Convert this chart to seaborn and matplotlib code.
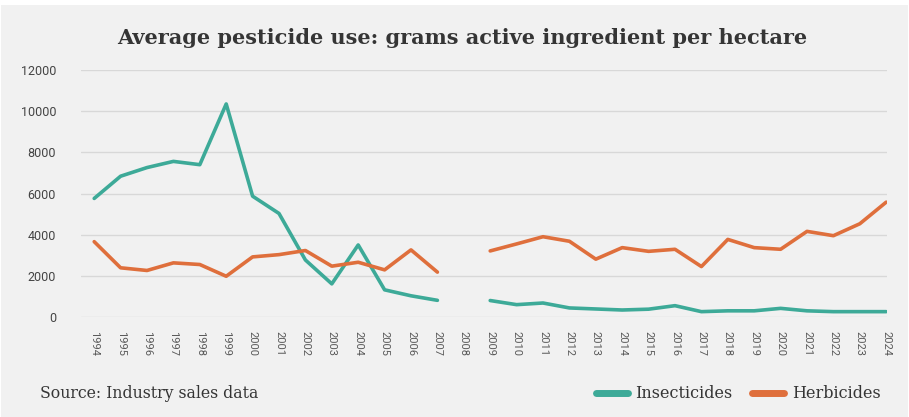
import numpy as np
import pandas as pd
import matplotlib
matplotlib.use("Agg")
import matplotlib.pyplot as plt
import seaborn as sns
from matplotlib.patches import Rectangle
from matplotlib.lines import Line2D

years = list(range(1994, 2025))
insecticides = [5760, 6840, 7260, 7560, 7400, 10350, 5870, 5030, 2770, 1610, 3500, 1320, 1030, 810,
                np.nan,
                800, 600, 680, 440, 390, 340, 380, 550, 260, 300, 300, 420, 300, 260, 260, 260]
herbicides = [3660, 2390, 2260, 2630, 2550, 1980, 2920, 3030, 3230, 2470, 2660, 2290, 3260, 2180,
              np.nan,
              3210, 3550, 3900, 3680, 2810, 3370, 3190, 3290, 2450, 3770, 3370, 3290, 4160, 3950, 4530, 5580]
series_names = ["Insecticides", "Herbicides"]
yticks = [0, 2000, 4000, 6000, 8000, 10000, 12000]

title = "Average pesticide use: grams active ingredient per hectare"
source = "Source: Industry sales data"

teal = "#3daa98"
orange = "#df6f3c"
bg = "#f1f1f1"
grid_c = "#d8d8d8"
txt = "#353535"

df = pd.DataFrame({"Year": years, "Insecticides": insecticides, "Herbicides": herbicides})
long = df.melt(id_vars="Year", var_name="Type", value_name="Value")
# a gap in the data (NaN) splits each line into separate runs
long["Run"] = long.groupby("Type")["Value"].transform(lambda s: s.isna().cumsum())
long = long.dropna(subset=["Value"])

sns.set_theme(style="white")
plt.rcParams["font.family"] = ["DejaVu Sans"]

fig = plt.figure(figsize=(9.09, 4.17), dpi=100)
fig.patch.set_facecolor("white")
fig.patches.append(Rectangle((1 / 909, 0), 907 / 909, 412 / 417, transform=fig.transFigure,
                             facecolor=bg, edgecolor="none", zorder=-10))

ax = fig.add_axes([81 / 909, 1 - 317 / 417, (887 - 81) / 909, (317 - 70) / 417])
ax.patch.set_alpha(0)

sns.lineplot(data=long, x="Year", y="Value", hue="Type", units="Run", estimator=None,
             hue_order=series_names, palette=[teal, orange], ax=ax, linewidth=2.6,
             legend=False)
for ln in ax.get_lines():
    ln.set_solid_capstyle("round")

ax.set_xlim(1993.5, 2024.03)
ax.set_ylim(0, 12000)
ax.set_yticks(yticks)
ax.set_yticklabels([str(v) for v in yticks])
ax.set_xticks(years)
ax.set_xticklabels([str(y) for y in years], rotation=-90)
ax.set_xlabel("")
ax.set_ylabel("")
for s in ax.spines.values():
    s.set_visible(False)
ax.grid(axis="y", color=grid_c, linewidth=1.0)
ax.set_axisbelow(True)
ax.tick_params(axis="y", length=0, pad=18, labelsize=9, labelcolor="#444444")
ax.tick_params(axis="x", length=0, pad=10, labelsize=8, labelcolor="#5a5a5a")
for lab in ax.get_yticklabels():
    lab.set_fontfamily("Roboto")
for lab in ax.get_xticklabels():
    lab.set_fontfamily("Roboto")

fig.text(462 / 909, 1 - 38 / 417, title, ha="center", va="center", fontsize=15,
         fontweight="bold", color=txt, family=["DejaVu Serif"])
fig.text(40 / 909, 1 - 394 / 417, source, ha="left", va="center", fontsize=11.3,
         color=txt, family=["DejaVu Serif"])

handles = [Line2D([0], [0], color=teal, linewidth=5, solid_capstyle="round"),
           Line2D([0], [0], color=orange, linewidth=5, solid_capstyle="round")]
leg = fig.legend(handles, series_names, loc="center right", bbox_to_anchor=(895 / 909, 1 - 394 / 417),
                 frameon=False, ncol=2, handlelength=2.0, handletextpad=0.5, columnspacing=1.2,
                 prop={"family": "DejaVu Serif", "size": 11.5})
for t in leg.get_texts():
    t.set_color(txt)

fig.savefig("out.png", dpi=100, facecolor=fig.get_facecolor())
